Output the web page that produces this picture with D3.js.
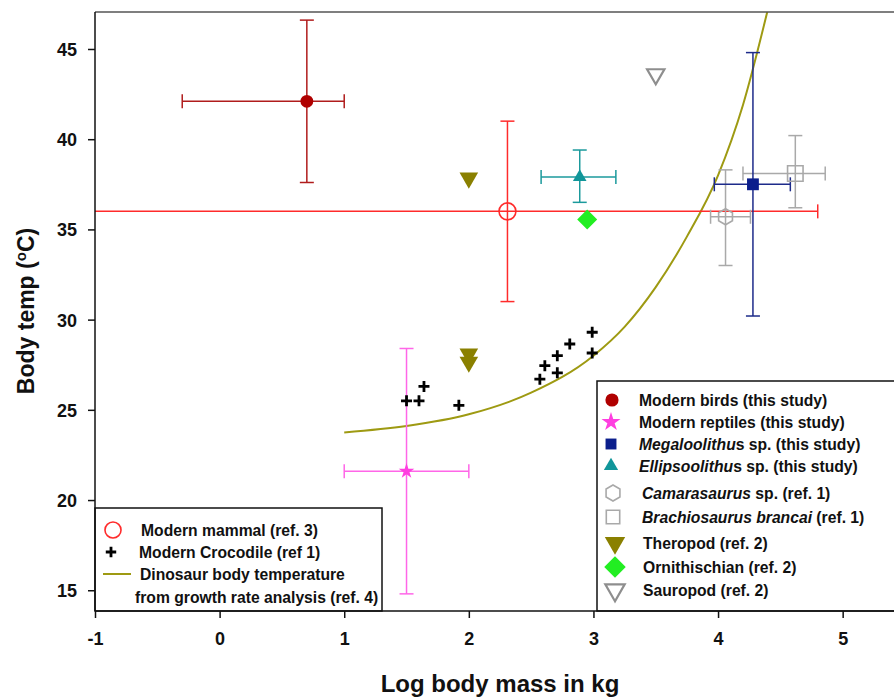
<!DOCTYPE html>
<html lang="en">
  <head>
    <meta charset="utf-8">
    <title>Body temperature vs body mass</title>
    <script src="https://d3js.org/d3.v7.min.js"></script>
    <style>
      body { margin: 0; background: #fff; }
      text { font-family: "Liberation Sans", Arial, sans-serif; font-weight: bold; fill: #111; }
      .tick text { font-size: 18px; }
      .leg text { font-size: 15.7px; }
    </style>
  </head>
  <body>
    <svg id="chart" width="894" height="697"></svg>
    <script>
      // ---- data ----
      const xTicks = [-1, 0, 1, 2, 3, 4, 5];
      const yTicks = [15, 20, 25, 30, 35, 40, 45];

      // points with error bars
      const errGroups = ['mammal', 'birds', 'reptiles', 'ellipsoolithus', 'camarasaurus', 'brachiosaurus', 'megaloolithus'];
      const errX     = [2.31, 0.70, 1.50, 2.89, 4.06, 4.62, 4.28];
      const errY     = [36.0, 42.1, 21.6, 37.9, 35.7, 38.1, 37.5];
      const errXLow  = [-1.5, -0.30, 1.00, 2.58, 3.94, 4.20, 3.97];
      const errXHigh = [4.80, 1.00, 2.00, 3.18, 4.26, 4.86, 4.58];
      const errYLow  = [31.0, 37.6, 14.8, 36.5, 33.0, 36.2, 30.2];
      const errYHigh = [41.0, 46.6, 28.4, 39.4, 38.3, 40.2, 44.8];

      // points from ref. 2
      const theropodX = [2.0, 2.0, 2.0];
      const theropodY = [37.85, 28.1, 27.65];
      const ornithischianX = [2.95];
      const ornithischianY = [35.55];
      const sauropodX = [3.5];
      const sauropodY = [43.6];

      // modern crocodile (ref 1)
      const crocX = [1.50, 1.60, 1.64, 1.92, 2.57, 2.61, 2.71, 2.71, 2.81, 2.99, 2.99];
      const crocY = [25.5, 25.5, 26.3, 25.25, 26.7, 27.45, 27.05, 28.0, 28.65, 29.3, 28.15];

      // dinosaur body temperature from growth rate analysis (ref. 4)
      const curveX = [1.0, 1.5, 2.0, 2.5, 3.0, 3.25, 3.5, 3.75, 4.0, 4.2, 4.4];
      const curveY = [23.75, 24.1, 24.75, 25.95, 28.0, 29.6, 31.8, 34.6, 38.0, 41.9, 47.2];

      const legendLeft = ['Modern mammal (ref. 3)', 'Modern Crocodile (ref 1)',
                          'Dinosaur body temperature', 'from growth rate analysis (ref. 4)'];
      const legendRightItalic = ['', '', 'Megaloolithu', 'Ellipsoolithu', 'Camarasaurus',
                                 'Brachiosaurus brancai', '', '', ''];
      const legendRightText = ['Modern birds (this study)', 'Modern reptiles (this study)',
                               's sp. (this study)', 's sp. (this study)', ' sp. (ref. 1)',
                               ' (ref. 1)', 'Theropod (ref. 2)', 'Ornithischian (ref. 2)', 'Sauropod (ref. 2)'];

      // ---- styles ----
      const style = {
        birds:          {shape: 'circle',   size: 130, fill: '#b00000', stroke: 'none',    bar: '#b01c1c'},
        reptiles:       {shape: 'star',     size: 75,  fill: '#ff3ee0', stroke: 'none',    bar: '#ff66e8'},
        megaloolithus:  {shape: 'square',   size: 140, fill: '#0b1e8c', stroke: 'none',    bar: '#1d2b8a'},
        ellipsoolithus: {shape: 'triangle', size: 80,  fill: '#11969a', stroke: 'none',    bar: '#1b9a9c'},
        camarasaurus:   {shape: 'hexagon',  size: 8,   fill: 'none',    stroke: '#a9a9a9', bar: '#a9a9a9'},
        brachiosaurus:  {shape: 'square',   size: 240, fill: 'none',    stroke: '#a9a9a9', bar: '#a9a9a9'},
        mammal:         {shape: 'circle',   size: 225, fill: 'none',    stroke: '#ff2b2b', bar: '#ff2b2b'},
        theropod:       {shape: 'down',     size: 150, fill: '#8a8000', stroke: 'none'},
        ornithischian:  {shape: 'diamond',  size: 200, fill: '#22ee22', stroke: 'none'},
        sauropod:       {shape: 'down',     size: 130, fill: 'none',    stroke: '#8e8e8e'},
        croc:           {shape: 'plus',     size: 5.5, fill: 'none',    stroke: '#000'}
      };
      const curveColor = '#9e9a12';

      const svg = d3.select('#chart');
      const mLeft = 95, mTop = 12, mBottom = 611, mRight = 895;

      const x = d3.scaleLinear().domain([-1, 5.42]).range([mLeft, mRight]);
      const y = d3.scaleLinear().domain([13.85, 47.05]).range([mBottom, mTop]);

      svg.append('defs').append('clipPath').attr('id', 'plotclip')
        .append('rect').attr('x', mLeft).attr('y', mTop)
        .attr('width', mRight - mLeft).attr('height', mBottom - mTop);

      function symbolPath(shape, size) {
        if (shape === 'hexagon') {
          const pts = d3.range(6).map(function(i) {
            const a = Math.PI / 3 * i - Math.PI / 2;
            return [size * Math.cos(a), size * Math.sin(a)];
          });
          return 'M' + pts.join('L') + 'Z';
        }
        if (shape === 'plus') {
          return 'M' + (-size) + ',0H' + size + 'M0,' + (-size) + 'V' + size;
        }
        const types = {circle: d3.symbolCircle, star: d3.symbolStar, square: d3.symbolSquare,
                       triangle: d3.symbolTriangle, down: d3.symbolTriangle, diamond: d3.symbolSquare};
        return d3.symbol(types[shape], size)();
      }

      function drawSymbol(g, st, cx, cy, scaleBy) {
        const k = scaleBy || 1;
        let rot = '';
        if (st.shape === 'down') rot = ' rotate(180)';
        if (st.shape === 'diamond') rot = ' rotate(45)';
        const size = (st.shape === 'hexagon' || st.shape === 'plus') ? st.size * Math.sqrt(k) : st.size * k;
        return g.append('path')
          .attr('d', symbolPath(st.shape, size))
          .attr('transform', 'translate(' + cx + ',' + cy + ')' + rot)
          .attr('fill', st.fill)
          .attr('stroke', st.stroke)
          .attr('stroke-width', st.shape === 'plus' ? 2.8 : (st.shape === 'down' ? 2.2 : 1.6));
      }

      const plot = svg.append('g').attr('clip-path', 'url(#plotclip)');

      // growth rate curve
      const curvePts = curveX.map(function(v, i) { return [v, curveY[i]]; });
      plot.append('path')
        .datum(curvePts)
        .attr('fill', 'none')
        .attr('stroke', curveColor)
        .attr('stroke-width', 2)
        .attr('d', d3.line().x(function(d) { return x(d[0]); }).y(function(d) { return y(d[1]); })
          .curve(d3.curveMonotoneX));

      // error bars
      const cap = 7;
      errGroups.forEach(function(name, i) {
        const st = style[name];
        const g = plot.append('g').attr('stroke', st.bar).attr('stroke-width', 1.5).attr('fill', 'none');
        g.append('line').attr('x1', x(errXLow[i])).attr('x2', x(errXHigh[i]))
          .attr('y1', y(errY[i])).attr('y2', y(errY[i]));
        g.append('line').attr('x1', x(errX[i])).attr('x2', x(errX[i]))
          .attr('y1', y(errYLow[i])).attr('y2', y(errYHigh[i]));
        [errXLow[i], errXHigh[i]].forEach(function(v) {
          g.append('line').attr('x1', x(v)).attr('x2', x(v))
            .attr('y1', y(errY[i]) - cap).attr('y2', y(errY[i]) + cap);
        });
        [errYLow[i], errYHigh[i]].forEach(function(v) {
          g.append('line').attr('x1', x(errX[i]) - cap).attr('x2', x(errX[i]) + cap)
            .attr('y1', y(v)).attr('y2', y(v));
        });
      });

      // points
      errGroups.forEach(function(name, i) {
        drawSymbol(plot, style[name], x(errX[i]), y(errY[i]));
      });
      theropodX.forEach(function(v, i) { drawSymbol(plot, style.theropod, x(v), y(theropodY[i])); });
      ornithischianX.forEach(function(v, i) { drawSymbol(plot, style.ornithischian, x(v), y(ornithischianY[i])); });
      sauropodX.forEach(function(v, i) { drawSymbol(plot, style.sauropod, x(v), y(sauropodY[i])); });
      crocX.forEach(function(v, i) { drawSymbol(plot, style.croc, x(v), y(crocY[i])); });

      // frame top line
      svg.append('line').attr('x1', mLeft).attr('x2', 894).attr('y1', mTop).attr('y2', mTop)
        .attr('stroke', '#555').attr('stroke-width', 1.5);

      // ---- legends ----
      const legL = svg.append('g').attr('class', 'leg');
      legL.append('rect').attr('x', mLeft).attr('y', 508).attr('width', 382 - mLeft).attr('height', mBottom - 508)
        .attr('fill', '#fff').attr('stroke', '#111').attr('stroke-width', 1.5);
      drawSymbol(legL, style.mammal, 113, 530, 0.9);
      drawSymbol(legL, style.croc, 111, 552, 0.9);
      legL.append('line').attr('x1', 103).attr('x2', 131).attr('y1', 574).attr('y2', 574)
        .attr('stroke', curveColor).attr('stroke-width', 2);
      const legLx = [141, 139, 140, 135];
      const legLy = [530, 552, 574, 597];
      legendLeft.forEach(function(t, i) {
        legL.append('text').attr('x', legLx[i]).attr('y', legLy[i]).attr('dy', '0.36em').text(t);
      });

      const legR = svg.append('g').attr('class', 'leg');
      legR.append('rect').attr('x', 597).attr('y', 381).attr('width', 310).attr('height', mBottom - 381)
        .attr('fill', '#fff').attr('stroke', '#111').attr('stroke-width', 1.5);
      const legRStyles = [style.birds, style.reptiles, style.megaloolithus, style.ellipsoolithus,
                          style.camarasaurus, style.brachiosaurus, style.theropod, style.ornithischian, style.sauropod];
      const legRsx = [612, 611, 611, 611, 613, 613, 615, 615, 615];
      const legRy = [400, 422, 444, 466, 493, 517, 543, 567, 590];
      const legRtx = [639, 639, 639, 639, 642, 642, 643, 643, 643];
      const legRscale = [1.05, 1.5, 0.85, 1.1, 1, 0.75, 1.2, 1.15, 1.25];
      legRStyles.forEach(function(st, i) {
        drawSymbol(legR, st, legRsx[i], legRy[i], legRscale[i]);
        const t = legR.append('text').attr('x', legRtx[i]).attr('y', legRy[i]).attr('dy', '0.36em');
        if (legendRightItalic[i]) t.append('tspan').attr('font-style', 'italic').text(legendRightItalic[i]);
        t.append('tspan').text(legendRightText[i]);
      });

      // ---- axes ----
      const xAxis = svg.append('g').attr('transform', 'translate(0,' + mBottom + ')')
        .call(d3.axisBottom(x).tickValues(xTicks).tickSize(7).tickPadding(14).tickSizeOuter(0)
          .tickFormat(function(d) { return String(d); }));
      const yAxis = svg.append('g').attr('transform', 'translate(' + mLeft + ',0)')
        .call(d3.axisLeft(y).tickValues(yTicks).tickSize(7).tickPadding(11).tickSizeOuter(0));
      [xAxis, yAxis].forEach(function(a) {
        a.select('.domain').attr('stroke', '#111').attr('stroke-width', 1.5);
        a.selectAll('.tick line').attr('stroke', '#111').attr('stroke-width', 1.5);
        a.selectAll('.tick text').attr('fill', '#111');
      });
      yAxis.selectAll('.tick text').attr('dy', '0.36em');
      xAxis.select('.domain').attr('d', 'M' + mLeft + ',0H894');
      yAxis.select('.domain').attr('d', 'M0,' + mTop + 'V' + mBottom);

      svg.append('text')
        .attr('x', 500).attr('y', 692)
        .attr('text-anchor', 'middle')
        .style('font-size', '24px')
        .text('Log body mass in kg');

      const yt = svg.append('text')
        .attr('transform', 'translate(34,311) rotate(-90)')
        .attr('text-anchor', 'middle')
        .style('font-size', '23px');
      yt.append('tspan').text('Body temp (');
      yt.append('tspan').attr('dy', '-0.55em').style('font-size', '15px').text('o');
      yt.append('tspan').attr('dy', '0.36em').text('C)');
    </script>
  </body>
</html>
